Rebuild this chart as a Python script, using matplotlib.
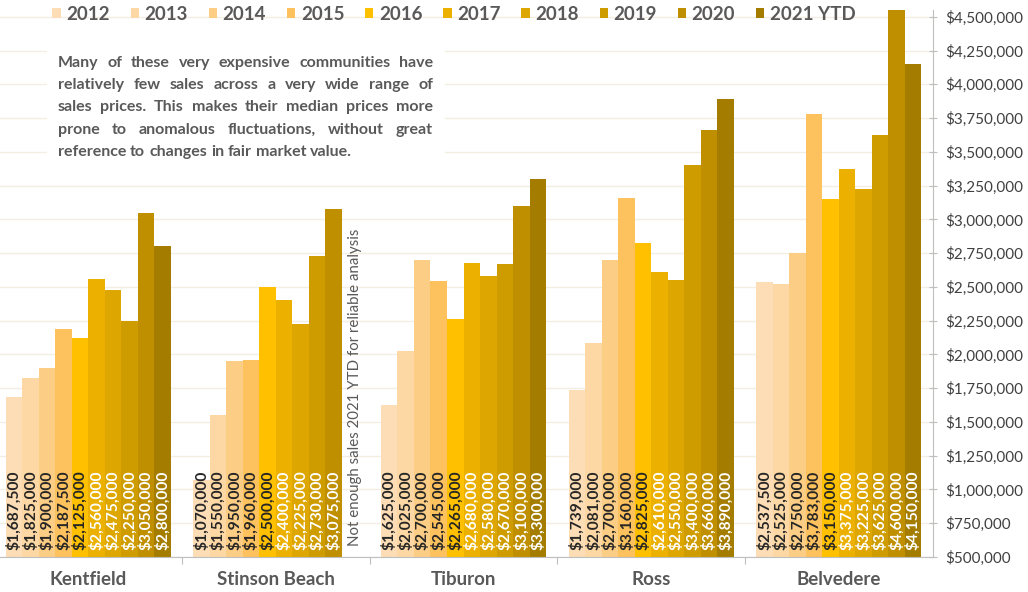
import matplotlib
matplotlib.use("Agg")
import matplotlib.pyplot as plt
import numpy as np
from matplotlib.patches import Rectangle
from matplotlib.ticker import FuncFormatter, MultipleLocator

plt.rcParams['font.family'] = ['Lato', 'DejaVu Sans']

towns = ["Kentfield", "Stinson Beach", "Tiburon", "Ross", "Belvedere"]
years = ["2012", "2013", "2014", "2015", "2016", "2017", "2018", "2019", "2020", "2021 YTD"]

# median sale price per town, one list per year (None = no data)
prices = {
    "2012": [1687500, 1070000, 1625000, 1739000, 2537500],
    "2013": [1825000, 1550000, 2025000, 2081000, 2525000],
    "2014": [1900000, 1950000, 2700000, 2700000, 2750000],
    "2015": [2187500, 1960000, 2545000, 3160000, 3783000],
    "2016": [2125000, 2500000, 2265000, 2825000, 3150000],
    "2017": [2560000, 2400000, 2680000, 2610000, 3375000],
    "2018": [2475000, 2225000, 2580000, 2550000, 3225000],
    "2019": [2250000, 2730000, 2670000, 3400000, 3625000],
    "2020": [3050000, 3075000, 3100000, 3660000, 4600000],
    "2021 YTD": [2800000, None, 3300000, 3890000, 4150000],
}
colors = ["#FCDDB6", "#FDD8A4", "#FCCD85", "#FDC15E", "#FFC000",
          "#EBB000", "#DEA600", "#CF9C00", "#BF8F00", "#A47D00"]
note = ["Many of these very expensive communities have",
        "relatively few sales across a very wide range of",
        "sales prices. This makes their median prices more",
        "prone to anomalous fluctuations, without great",
        "reference to changes in fair market value."]

W, H = 1028, 592
fig = plt.figure(figsize=(W / 100, H / 100), dpi=100)
fig.patch.set_facecolor("white")
ax = fig.add_axes([-5.7 / W, 1 - 557 / H, 938.4 / W, 547 / H])

grey = "#595959"
ymin, ymax = 500000, 4550000
bw = 0.088
x = np.arange(len(towns))
for i, yr in enumerate(years):
    off = (i - 4.5) * bw
    for j, v in enumerate(prices[yr]):
        if v is None:
            continue
        ax.bar(x[j] + off, v - ymin, bw, bottom=ymin, color=colors[i],
               label=yr if j == 0 else None, zorder=2)
        tc = "#262626" if i < 5 else "white"
        ax.text(x[j] + off, ymin + 50000, "${:,.0f}".format(v), rotation=90,
                ha="center", va="bottom", fontsize=11.2, fontweight="bold",
                color=tc, zorder=3)

ax.text(1 + 4.5 * bw + 0.025, ymin + 80000,
        "Not enough sales 2021 YTD for reliable analysis", rotation=90,
        ha="center", va="bottom", fontsize=10.8, color=grey, zorder=3)

ax.set_xlim(-0.5, 4.5)
ax.set_ylim(ymin, ymax)
ax.yaxis.tick_right()
ax.yaxis.set_major_locator(MultipleLocator(250000))
ax.yaxis.set_major_formatter(FuncFormatter(lambda v, p: "${:,.0f}".format(v)))
ax.tick_params(axis="y", direction="inout", length=6, color="#BFBFBF",
               labelsize=11, labelcolor="#404040", pad=6)
ax.grid(axis="y", color="#F3EEE2", linewidth=1, zorder=0)
ax.set_axisbelow(True)

ax.set_xticks([0.5, 1.5, 2.5, 3.5])
ax.set_xticklabels([])
ax.tick_params(axis="x", direction="out", length=5, color="#BFBFBF")
for j, t in enumerate(towns):
    ax.text(j, -0.042, t, transform=ax.get_xaxis_transform(), ha="center",
            va="center", fontsize=13.5, fontweight="bold", color=grey)

for s in ["top", "left"]:
    ax.spines[s].set_visible(False)
ax.spines["bottom"].set_color("#BFBFBF")
ax.spines["right"].set_color("#BFBFBF")

leg = ax.legend(loc="center", bbox_to_anchor=(454 / W, 1 - 14 / H),
                bbox_transform=fig.transFigure, ncol=10, frameon=False,
                handlelength=0.45, handleheight=0.45, handletextpad=0.3,
                columnspacing=1.1, prop={"size": 13.5, "weight": "bold"})
for t in leg.get_texts():
    t.set_color(grey)

# white panel behind the note, drawn above the gridlines
fig.add_artist(Rectangle((47 / W, 1 - 168 / H), 398 / W, 120 / H,
                         transform=fig.transFigure, facecolor="white",
                         edgecolor="none", zorder=1))

# justified note text
renderer = fig.canvas.get_renderer()
left, right = 58, 433
for k, line in enumerate(note):
    yf = 1 - (63 + k * 22.2) / H
    words = line.split()
    items = [fig.text(0, yf, w, fontsize=11.5, fontweight="bold", color=grey,
                      va="center", zorder=2) for w in words]
    widths = [it.get_window_extent(renderer).width for it in items]
    if k == len(note) - 1:
        gap = fig.text(0, 0, "a b", fontsize=11.5, fontweight="bold")
        sp = gap.get_window_extent(renderer).width - fig.text(
            0, 0, "ab", fontsize=11.5, fontweight="bold").get_window_extent(renderer).width
        for t in fig.texts[-2:]:
            t.remove()
    else:
        sp = (right - left - sum(widths)) / (len(words) - 1)
    xp = left
    for it, wd in zip(items, widths):
        it.set_x(xp / W)
        xp += wd + sp

fig.savefig("out.png", dpi=100)
